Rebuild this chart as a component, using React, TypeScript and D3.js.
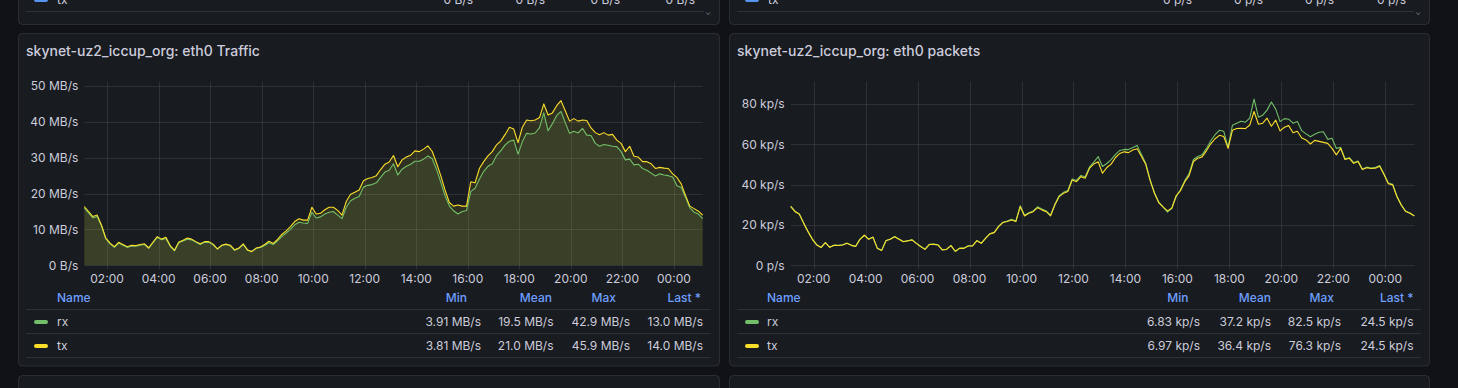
import * as d3 from 'd3';

// 10-minute samples, 01:07 -> 01:07 next day
const startTime = new Date(2024, 0, 1, 1, 7);
const stepMinutes = 10;

// eth0 Traffic, MB/s
const trafficRx = [
  16.0, 14.6, 13.2, 13.6, 11.0, 7.4, 6.0, 5.0, 6.2, 5.6,
  5.0, 5.4, 5.3, 5.6, 5.8, 4.7, 6.3, 7.8, 7.1, 7.5,
  5.3, 4.0, 6.3, 6.8, 7.3, 7.1, 6.4, 5.8, 6.4, 6.4,
  5.7, 4.5, 5.5, 5.8, 5.4, 4.2, 4.7, 5.8, 4.2, 3.91,
  4.7, 5.0, 5.5, 6.3, 5.8, 6.8, 8.0, 9.0, 10.0, 11.3,
  12.0, 11.8, 11.7, 14.8, 13.2, 13.5, 14.3, 14.8, 15.0, 14.0,
  13.0, 16.2, 18.0, 18.7, 19.2, 21.8, 22.3, 22.5, 23.0, 24.5,
  26.0, 26.5, 28.3, 25.2, 26.8, 27.6, 28.2, 29.0, 29.0, 29.6,
  30.5, 29.8, 26.8, 23.2, 19.4, 16.6, 15.2, 14.3, 15.0, 15.3,
  20.6, 21.5, 24.0, 26.2, 27.6, 28.3, 30.6, 32.0, 33.6, 34.6,
  34.9, 31.0, 34.5, 36.8, 36.6, 36.9, 38.4, 42.5, 37.5, 39.5,
  41.8, 42.9, 39.8, 36.8, 37.4, 36.9, 38.2, 36.3, 36.2, 34.0,
  33.2, 33.7, 33.5, 33.2, 33.1, 31.7, 29.4, 29.6, 28.0, 28.2,
  27.0, 26.5, 25.7, 24.9, 25.5, 25.2, 25.0, 24.6, 22.2, 21.7,
  19.0, 16.0, 14.8, 14.3, 13.0,
];
const trafficTx = [
  16.4, 15.0, 13.6, 14.0, 11.2, 7.6, 6.2, 5.2, 6.4, 5.8,
  5.2, 5.6, 5.5, 5.8, 6.0, 4.9, 6.5, 8.0, 7.3, 7.8,
  5.5, 4.2, 6.5, 7.0, 7.6, 7.3, 6.6, 6.0, 6.6, 6.6,
  5.9, 4.6, 5.6, 5.9, 5.6, 4.3, 4.8, 6.0, 4.3, 3.81,
  4.8, 5.1, 5.8, 6.7, 6.1, 7.2, 8.6, 9.6, 10.8, 12.2,
  13.0, 12.6, 12.6, 16.2, 14.3, 14.5, 15.5, 16.2, 16.2, 15.3,
  14.0, 17.8, 19.8, 20.4, 21.0, 23.6, 24.2, 24.5, 25.0, 26.7,
  28.2, 28.8, 30.6, 27.5, 29.4, 30.2, 30.7, 31.9, 31.7, 32.4,
  33.3, 31.8, 28.6, 25.0, 21.0, 17.5, 16.5, 16.8, 16.5, 16.5,
  23.3, 23.0, 27.0, 28.9, 30.5, 31.7, 33.6, 34.7, 36.5, 38.5,
  38.0, 34.2, 38.5, 40.5, 40.3, 40.5, 41.2, 45.0, 41.9, 42.5,
  44.5, 45.9, 43.1, 40.2, 40.9, 40.2, 40.5, 40.4, 38.3, 37.0,
  36.4, 37.0, 36.3, 36.5, 34.9, 34.0, 31.7, 33.2, 30.4, 30.2,
  28.9, 28.9, 28.3, 27.0, 27.3, 27.1, 27.0, 25.5, 24.5, 22.7,
  19.5, 16.5, 15.8, 15.1, 14.0,
];

// eth0 packets, kp/s
const packetsRx = [
  29.4, 26.9, 25.5, 21.0, 16.8, 13.0, 10.2, 8.9, 11.3, 9.0,
  10.0, 9.9, 10.2, 11.0, 10.0, 9.4, 13.0, 15.0, 13.0, 14.0,
  8.5, 7.3, 12.3, 13.0, 14.3, 13.0, 11.8, 12.2, 12.7, 11.0,
  9.4, 8.0, 10.4, 10.5, 10.2, 7.7, 8.0, 9.9, 6.83, 8.5,
  8.5, 9.7, 9.7, 12.3, 11.0, 13.5, 15.7, 16.4, 19.4, 21.4,
  22.0, 22.8, 22.0, 29.5, 24.8, 26.1, 27.0, 29.0, 27.9, 27.0,
  24.9, 30.3, 34.6, 36.2, 37.1, 42.8, 42.1, 44.6, 43.9, 48.8,
  51.2, 53.9, 49.0, 50.5, 52.4, 55.0, 57.0, 57.5, 57.4, 58.4,
  59.5, 55.0, 50.5, 42.5, 36.0, 31.3, 29.0, 26.4, 28.3, 34.0,
  37.5, 42.0, 45.5, 52.5, 54.0, 54.8, 58.0, 61.8, 64.8, 67.0,
  66.5, 58.5, 69.5, 70.5, 71.5, 71.0, 73.0, 82.5, 73.5, 74.5,
  77.0, 81.0, 77.5, 71.3, 72.8, 72.5, 70.5, 71.3, 66.8, 65.2,
  63.8, 65.0, 66.0, 66.3, 62.5, 63.0, 58.0, 58.5, 52.8, 53.4,
  50.9, 51.8, 47.8, 48.7, 48.3, 48.5, 49.5, 45.3, 40.8, 40.2,
  34.3, 30.0, 26.9, 26.0, 24.5,
];
const packetsTx = [
  29.1, 26.6, 25.3, 20.8, 16.7, 12.9, 10.1, 8.8, 11.2, 8.9,
  9.9, 9.8, 10.1, 10.9, 9.9, 9.3, 12.9, 14.9, 12.9, 13.9,
  8.4, 7.4, 12.2, 12.9, 14.2, 12.9, 11.7, 12.1, 12.6, 10.9,
  9.3, 7.9, 10.3, 10.4, 10.1, 7.6, 7.9, 9.8, 6.97, 8.4,
  8.4, 9.6, 9.6, 12.2, 10.9, 13.4, 15.6, 16.2, 19.2, 21.2,
  21.7, 22.5, 21.7, 29.1, 24.5, 25.8, 26.6, 28.6, 27.5, 26.6,
  24.5, 29.9, 34.1, 35.7, 36.6, 42.3, 41.5, 44.0, 43.2, 48.1,
  50.3, 51.4, 45.7, 48.5, 50.2, 53.5, 55.5, 56.3, 55.9, 57.2,
  57.8, 54.0, 50.0, 42.0, 35.7, 31.0, 28.9, 27.0, 28.3, 34.5,
  37.0, 41.5, 44.5, 51.5, 53.1, 53.8, 56.8, 60.3, 62.8, 64.5,
  63.9, 58.0, 67.0, 67.9, 68.0, 67.8, 69.6, 76.3, 70.0, 70.5,
  73.0, 69.0, 72.0, 66.7, 68.5, 69.3, 65.8, 66.5, 63.2, 62.2,
  60.2, 62.0, 61.5, 61.0, 60.5, 58.0, 54.8, 58.0, 52.5, 53.1,
  50.6, 51.5, 47.5, 48.4, 48.0, 48.2, 49.2, 45.0, 40.5, 39.9,
  34.0, 29.8, 26.7, 25.8, 24.5,
];

const trafficTicks = [0, 10, 20, 30, 40, 50];
const packetTicks = [0, 20, 40, 60, 80];

const legendHeaders = ['Min', 'Mean', 'Max', 'Last *'];
const trafficStats = [
  ['3.91 MB/s', '19.5 MB/s', '42.9 MB/s', '13.0 MB/s'],
  ['3.81 MB/s', '21.0 MB/s', '45.9 MB/s', '14.0 MB/s'],
];
const packetStats = [
  ['6.83 kp/s', '37.2 kp/s', '82.5 kp/s', '24.5 kp/s'],
  ['6.97 kp/s', '36.4 kp/s', '76.3 kp/s', '24.5 kp/s'],
];
const seriesNames = ['rx', 'tx'];

const W = 1458;
const H = 388;
const FONT = 'Inter, "Noto Sans", sans-serif';
const TEXT = '#ccccdc';
const LINK = '#6e9fff';
const BORDER = 'rgba(204,204,220,0.13)';
const GRID = 'rgba(204,204,220,0.12)';
const COLORS = ['#73bf69', '#fade2a'];

const times = trafficRx.map((_, i) => d3.timeMinute.offset(startTime, i * stepMinutes));

type PanelProps = {
  left: number;
  right: number;
  plotLeft: number;
  plotRight: number;
  title: string;
  series: number[][];
  yMax: number;
  yTicks: number[];
  fmt: (v: number) => string;
  fill: boolean;
  stats: string[][];
  headerRight: number[];
  valueRight: number[];
  nameX: number;
  swatchX: number;
};

function Panel(p: PanelProps) {
  const plotTop = 81.7;
  const plotBottom = 265.3;
  const x = d3.scaleTime().domain([times[0], times[times.length - 1]]).range([p.plotLeft, p.plotRight]);
  const y = d3.scaleLinear().domain([0, p.yMax]).range([plotBottom, plotTop]);
  const xTicks = x.ticks(d3.timeHour.every(2)!);
  const line = d3.line<number>().x((_, i) => x(times[i])).y((d) => y(d));
  const area = d3.area<number>().x((_, i) => x(times[i])).y0(plotBottom).y1((d) => y(d));
  const sepLeft = p.left + 8;
  const sepRight = p.right - 9;

  return (
    <g>
      <rect x={p.left + 0.5} y={33.5} width={p.right - p.left - 1} height={332.5} rx={4} fill="#181b1f" stroke={BORDER} />
      <text x={p.left + 8} y={55.5} fill={TEXT} fontSize={14} fontWeight={500} fontFamily={FONT}>{p.title}</text>

      {p.yTicks.map((t) => (
        <line key={'h' + t} x1={p.plotLeft} x2={p.plotRight} y1={Math.round(y(t)) + 0.5} y2={Math.round(y(t)) + 0.5} stroke={GRID} />
      ))}
      {xTicks.map((t) => (
        <line key={'v' + +t} x1={Math.round(x(t)) + 0.5} x2={Math.round(x(t)) + 0.5} y1={plotTop} y2={plotBottom + 4} stroke={GRID} />
      ))}

      {p.fill && p.series.map((s, k) => (
        <path key={'a' + k} d={area(s) ?? ''} fill={COLORS[k]} fillOpacity={0.11} />
      ))}
      {p.series.map((s, k) => (
        <path key={'l' + k} d={line(s) ?? ''} fill="none" stroke={COLORS[k]} strokeWidth={1.1} strokeLinejoin="round" />
      ))}

      {p.yTicks.map((t) => (
        <text key={'yl' + t} x={p.plotLeft - 6} y={y(t)} dy="0.35em" textAnchor="end" fill={TEXT} fontSize={12} fontFamily={FONT}>
          {p.fmt(t)}
        </text>
      ))}
      {xTicks.map((t) => (
        <text key={'xl' + +t} x={x(t)} y={282.5} textAnchor="middle" fill={TEXT} fontSize={12} fontFamily={FONT}>
          {d3.timeFormat('%H:%M')(t)}
        </text>
      ))}

      <text x={p.nameX} y={302} fill={LINK} fontSize={12} fontWeight={500} fontFamily={FONT}>Name</text>
      {legendHeaders.map((h, j) => (
        <text key={'hd' + j} x={p.headerRight[j]} y={302} textAnchor="end" fill={LINK} fontSize={12} fontWeight={500} fontFamily={FONT}>{h}</text>
      ))}
      {[309.5, 333.5, 357.5].map((yy) => (
        <line key={'s' + yy} x1={sepLeft} x2={sepRight} y1={yy} y2={yy} stroke={BORDER} />
      ))}
      {seriesNames.map((n, k) => (
        <g key={'row' + n}>
          <rect x={p.swatchX} y={320 + k * 24} width={14} height={4} rx={2} fill={COLORS[k]} />
          <text x={p.nameX} y={326 + k * 24} fill={TEXT} fontSize={12} fontFamily={FONT}>{n}</text>
          {p.stats[k].map((v, j) => (
            <text key={'v' + j} x={p.valueRight[j]} y={326 + k * 24} textAnchor="end" fill={TEXT} fontSize={12} fontFamily={FONT}>{v}</text>
          ))}
        </g>
      ))}
    </g>
  );
}

function TopStub({ left, right, nameX, swatchX, unit, valueRight }: { left: number; right: number; nameX: number; swatchX: number; unit: string; valueRight: number[] }) {
  return (
    <g>
      <rect x={left + 0.5} y={-40} width={right - left - 1} height={64.5} rx={4} fill="#181b1f" stroke={BORDER} />
      <rect x={swatchX} y={-2} width={14} height={4} rx={2} fill="#5794f2" />
      <text x={nameX} y={4} fill={TEXT} fontSize={12} fontFamily={FONT}>tx</text>
      {valueRight.map((vx, j) => (
        <text key={j} x={vx} y={4} textAnchor="end" fill={TEXT} fontSize={12} fontFamily={FONT}>{'0 ' + unit}</text>
      ))}
      <line x1={left + 8} x2={right - 16} y1={11.5} y2={11.5} stroke={BORDER} />
      <text x={right - 12} y={15} textAnchor="middle" fill="#6e6f78" fontSize={8} fontFamily={FONT}>⌄</text>
    </g>
  );
}

function BottomStub({ left, right, title }: { left: number; right: number; title: string }) {
  return (
    <g>
      <rect x={left + 0.5} y={375.5} width={right - left - 1} height={60} rx={4} fill="#181b1f" stroke={BORDER} />
      <text x={left + 8} y={399} fill={TEXT} fontSize={14} fontWeight={500} fontFamily={FONT}>{title}</text>
    </g>
  );
}

export default function App() {
  return (
    <div style={{ position: 'fixed', left: 0, top: 0, width: W, height: H, background: '#111217' }}>
      <svg width={W} height={H} style={{ display: 'block' }}>
        <TopStub left={18} right={720} nameX={57} swatchX={34} unit="B/s" valueRight={[473, 545, 620, 695]} />
        <TopStub left={729} right={1430} nameX={768} swatchX={745} unit="p/s" valueRight={[1192, 1263, 1334, 1406]} />

        <Panel
          left={18}
          right={720}
          plotLeft={84.3}
          plotRight={702.7}
          title="skynet-uz2_iccup_org: eth0 Traffic"
          series={[trafficRx, trafficTx]}
          yMax={51.2}
          yTicks={trafficTicks}
          fmt={(v) => (v === 0 ? '0 B/s' : `${v} MB/s`)}
          fill={true}
          stats={trafficStats}
          headerRight={[467, 552, 616, 701]}
          valueRight={[481, 553.5, 630, 703]}
          nameX={57}
          swatchX={34}
        />
        <Panel
          left={729}
          right={1430}
          plotLeft={790.7}
          plotRight={1414.3}
          title="skynet-uz2_iccup_org: eth0 packets"
          series={[packetsRx, packetsTx]}
          yMax={91.1}
          yTicks={packetTicks}
          fmt={(v) => (v === 0 ? '0 p/s' : `${v} kp/s`)}
          fill={false}
          stats={packetStats}
          headerRight={[1188.5, 1271, 1334, 1413.5]}
          valueRight={[1200, 1271, 1341, 1413.5]}
          nameX={767}
          swatchX={745}
        />

        <BottomStub left={18} right={720} title="skynet-uz2_iccup_org: eth1 Traffic" />
        <BottomStub left={729} right={1430} title="skynet-uz2_iccup_org: eth1 packets" />
      </svg>
    </div>
  );
}
